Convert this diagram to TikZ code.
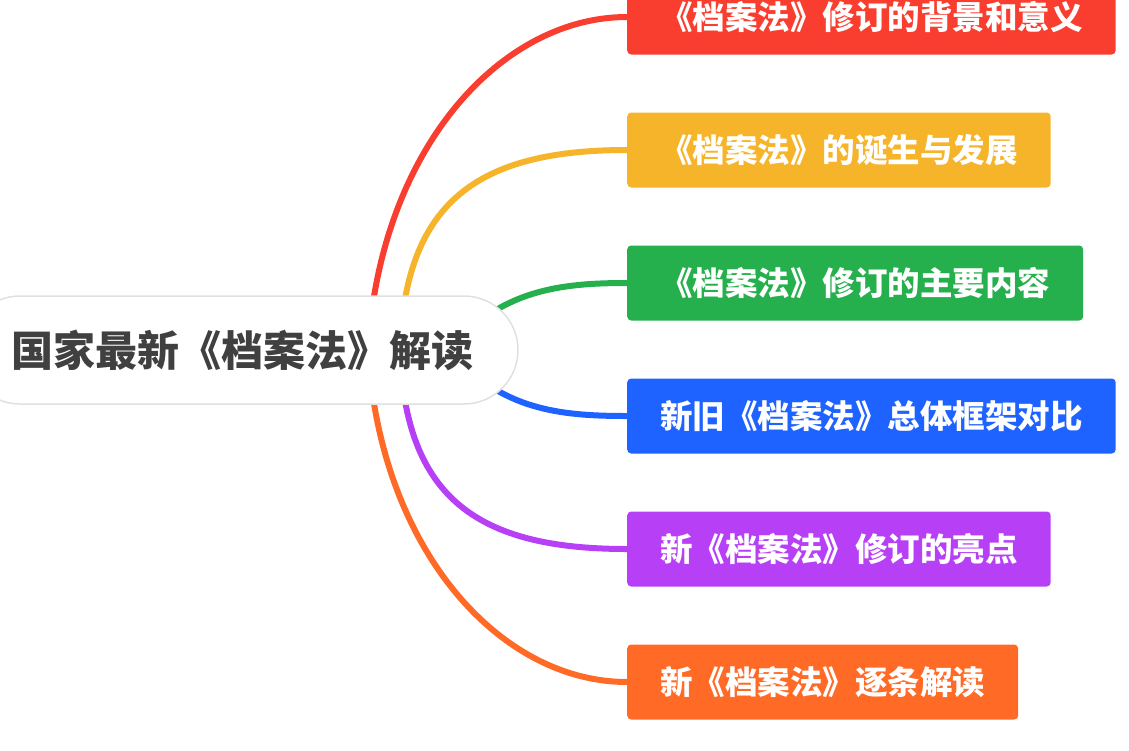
\documentclass[tikz,border=0pt]{standalone}
\usepackage{fontspec}
\newfontfamily\cjk{Noto Sans CJK SC}[BoldFont={Noto Sans CJK SC Black}]
\usepackage{xcolor}
\usepackage{tikz}
\usetikzlibrary{backgrounds}
\definecolor{cRed}{HTML}{F93E2F}
\definecolor{cYellow}{HTML}{F6B42A}
\definecolor{cGreen}{HTML}{25B04D}
\definecolor{cBlue}{HTML}{1E62FF}
\definecolor{cPurple}{HTML}{B740F7}
\definecolor{cOrange}{HTML}{FF6B27}

\begin{document}
\begin{tikzpicture}[x=1pt, y=-1pt,
        topic/.style = {draw=black!12, line width=1.5pt, fill=white, rounded corners=54pt,
            minimum width=552pt, minimum height=108pt, inner sep=0pt, text=black!75,
            font=\cjk\bfseries\fontsize{42}{50}\selectfont},
        branch/.style = {anchor=west, rounded corners=4pt, minimum height=75pt,
            inner xsep=33pt, inner ysep=0pt, text=white,
            font=\cjk\bfseries\fontsize{32.5}{39}\selectfont},
        link/.style = {line width=6pt}
    ]
        \useasboundingbox (0,0) rectangle (1129,750);
        \node[topic] (main) at (242,350) {国家最新《档案法》解读};
        \node[branch, fill=cRed] (bg) at (627,17) {《档案法》修订的背景和意义};
        \node[branch, fill=cYellow] (birth) at (627,150) {《档案法》的诞生与发展};
        \node[branch, fill=cGreen] (content) at (627,283) {《档案法》修订的主要内容};
        \node[branch, fill=cBlue] (compare) at (627,416) {新旧《档案法》总体框架对比};
        \node[branch, fill=cPurple] (points) at (627,549) {新《档案法》修订的亮点};
        \node[branch, fill=cOrange] (reading) at (627,682) {新《档案法》逐条解读};
        \begin{scope}[on background layer]
            \draw[link, cRed] ([xshift=126pt]main.center) .. controls +(12,-200) and +(-127,0) .. (bg.west);
            \draw[link, cYellow] ([xshift=158pt]main.center) .. controls +(5,-150) and +(-147,0) .. (birth.west);
            \draw[link, cGreen] ([xshift=208pt]main.center) .. controls +(50,-60) and +(-67,0) .. (content.west);
            \draw[link, cBlue] ([xshift=208pt]main.center) .. controls +(50,60) and +(-67,0) .. (compare.west);
            \draw[link, cPurple] ([xshift=158pt]main.center) .. controls +(5,150) and +(-147,0) .. (points.west);
            \draw[link, cOrange] ([xshift=126pt]main.center) .. controls +(12,200) and +(-127,0) .. (reading.west);
        \end{scope}
    \end{tikzpicture}
\end{document}
